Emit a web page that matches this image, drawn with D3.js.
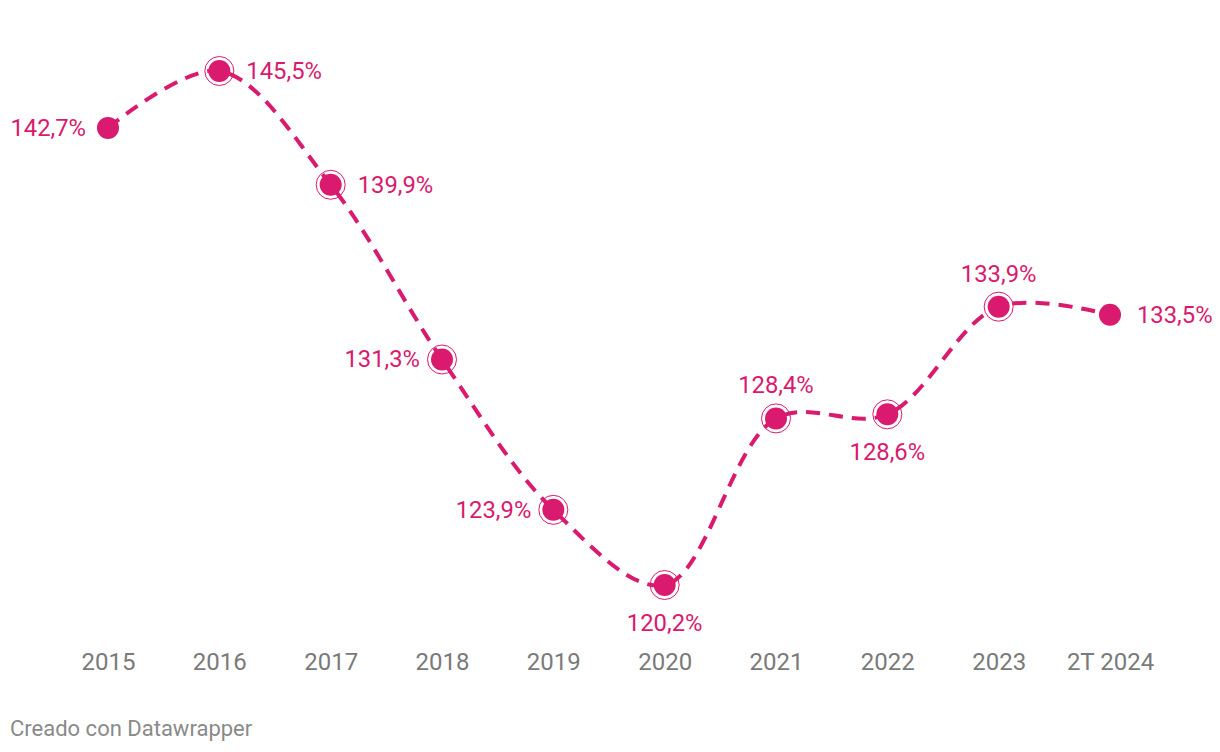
<!DOCTYPE html>
<html><head><meta charset="utf-8">
<script src="https://cdn.jsdelivr.net/npm/d3@7"></script>
<style>
html,body{margin:0;padding:0;background:#fff;}
svg{display:block;font-family:Roboto,"Noto Sans",sans-serif;}
</style></head>
<body>
<svg id="chart" width="1220" height="752"></svg>
<script>
const categories = ["2015","2016","2017","2018","2019","2020","2021","2022","2023","2T 2024"];
const values = [142.7,145.5,139.9,131.3,123.9,120.2,128.4,128.6,133.9,133.5];
const labels = ["142,7%","145,5%","139,9%","131,3%","123,9%","120,2%","128,4%","128,6%","133,9%","133,5%"];
const labelPos = ["left","right","right","left","left","below","above","below","above","right"];
const ringed = [false,true,true,true,true,true,true,true,true,false];

const color = "#d91a6e";
const svg = d3.select("#chart");

const x = d3.scalePoint().domain(categories).range([108,1110]);
const y = d3.scaleLinear().domain([120.2,145.5]).range([585,71]);

const data = categories.map((c,i)=>({c, v:values[i], l:labels[i], p:labelPos[i], r:ringed[i]}));

const line = d3.line().x(d=>x(d.c)).y(d=>y(d.v)).curve(d3.curveCatmullRom.alpha(0.5));

svg.append("path").datum(data)
  .attr("d", line)
  .attr("fill","none")
  .attr("stroke",color)
  .attr("stroke-width",4)
  .attr("stroke-dasharray","14,9")
  .attr("stroke-linecap","butt");

const g = svg.append("g");
g.selectAll("circle.ring").data(data.filter(d=>d.r)).join("circle")
  .attr("class","ring")
  .attr("cx",d=>x(d.c)).attr("cy",d=>y(d.v)).attr("r",14.5)
  .attr("fill","none").attr("stroke",color).attr("stroke-width",1);
g.selectAll("circle.dot").data(data).join("circle")
  .attr("class","dot")
  .attr("cx",d=>x(d.c)).attr("cy",d=>y(d.v)).attr("r",11)
  .attr("fill",color);

svg.append("g").selectAll("text").data(data).join("text")
  .attr("x",d=>{
    const cx = x(d.c);
    if(d.p==="left") return cx-22;
    if(d.p==="right") return cx+27;
    return cx;
  })
  .attr("y",d=>{
    const cy = y(d.v);
    if(d.p==="above") return cy-33;
    if(d.p==="below") return cy+38;
    return cy;
  })
  .attr("text-anchor",d=>d.p==="left"?"end":d.p==="right"?"start":"middle")
  .attr("dominant-baseline","central")
  .attr("font-size",23.8)
  .attr("fill",color)
  .text(d=>d.l);

const xAxis = d3.axisBottom(x).tickSize(0).tickPadding(0);
const ax = svg.append("g").attr("transform","translate(0,650)").call(xAxis);
ax.select(".domain").remove();
ax.selectAll("text").attr("font-size",24).attr("fill","#7a7a7a")
  .attr("font-family","Roboto,sans-serif").attr("dy","0").attr("y",12).attr("dominant-baseline","central");

svg.append("text").attr("x",10).attr("y",728)
  .attr("dominant-baseline","central")
  .attr("font-size",22).attr("fill","#8a8a8a")
  .text("Creado con Datawrapper");
</script>
</body></html>
